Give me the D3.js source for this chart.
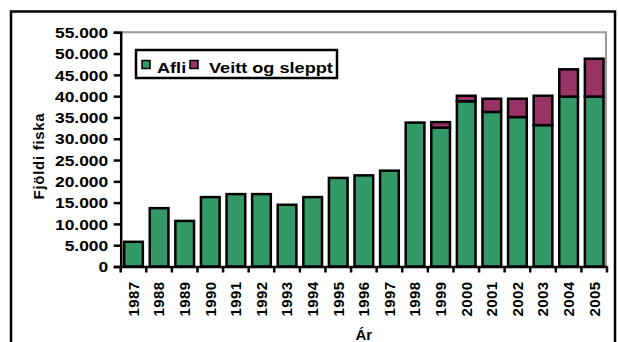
<!DOCTYPE html>
<html><head><meta charset="utf-8">
<script src="https://cdn.jsdelivr.net/npm/d3@7"></script>
<style>
html,body{margin:0;padding:0;background:#fff;}
svg text{font-family:"Liberation Sans",Arial,sans-serif;font-weight:bold;fill:#000;}
</style></head>
<body>
<svg id="c" width="618" height="342"></svg>
<script>
const years = ["1987","1988","1989","1990","1991","1992","1993","1994","1995","1996","1997","1998","1999","2000","2001","2002","2003","2004","2005"];
const afli = [5800,13700,10700,16300,17000,17000,14500,16300,20800,21400,22500,33800,32600,38800,36300,35100,33200,39900,39900];
const veitt = [0,0,0,0,0,0,0,0,0,0,0,0,1300,1300,3100,4300,6900,6400,8900];
const seriesNames = ["Afli","Veitt og sleppt"];
const colors = ["#339966","#993366"];
const yTicks = [0,5000,10000,15000,20000,25000,30000,35000,40000,45000,50000,55000];

const svg = d3.select("#c");
const L = 120.7, R = 607, T = 32.3, B = 266.5;

// outer chart border
svg.append("rect").attr("x",11).attr("y",11.5).attr("width",604).attr("height",345)
  .attr("fill","#fff").attr("stroke","#000").attr("stroke-width",2.5);

const x = d3.scaleBand().domain(years).range([L,R]).paddingInner(0.27).paddingOuter(0.135);
const y = d3.scaleLinear().domain([0,55000]).range([B,T]);

// plot area border (gray top/right)
svg.append("path")
  .attr("d", `M${L},${T}H${R-1}V${B}`)
  .attr("fill","none").attr("stroke","#999").attr("stroke-width",2);

const data = years.map((yr,i)=>({year:yr, Afli:afli[i], "Veitt og sleppt":veitt[i]}));
const stack = d3.stack().keys(seriesNames)(data);

svg.append("g").selectAll("g").data(stack).join("g")
  .attr("fill",(d,i)=>colors[i])
  .selectAll("rect").data(d=>d.filter(p=>p[1]-p[0]>0)).join("rect")
  .attr("x",d=>x(d.data.year))
  .attr("width",x.bandwidth())
  .attr("y",d=>y(d[1]))
  .attr("height",d=>y(d[0])-y(d[1]))
  .attr("stroke","#000").attr("stroke-width",2.5);

const loc = d3.formatLocale({decimal:",",thousands:".",grouping:[3],currency:["",""]});
const fmt = loc.format(",");

// y axis
const yAxis = svg.append("g").attr("transform",`translate(${L},0)`)
  .call(d3.axisLeft(y).tickValues(yTicks).tickFormat(fmt).tickSize(7).tickPadding(5));
yAxis.select(".domain").attr("stroke","#000").attr("stroke-width",2.5);
yAxis.selectAll(".tick line").attr("stroke","#000").attr("stroke-width",2.5);
yAxis.selectAll(".tick text").attr("font-size",14.5)
  .attr("font-family","Liberation Sans, Arial, sans-serif").attr("font-weight","bold")
  .attr("x",0).attr("dy","0.36em")
  .attr("transform","translate(-12.5,0) scale(1.2,1)");

// x axis
const xAxis = svg.append("g").attr("transform",`translate(0,${B})`)
  .call(d3.axisBottom(x).tickSize(0).tickSizeOuter(0));
xAxis.select(".domain").attr("stroke","#000").attr("stroke-width",2.5);
xAxis.selectAll(".tick text")
  .attr("font-size",15).attr("letter-spacing","0.4px")
  .attr("font-family","Liberation Sans, Arial, sans-serif").attr("font-weight","bold")
  .attr("text-anchor","end")
  .attr("transform","rotate(-90)")
  .attr("x",-15).attr("y",0).attr("dy","0.36em");
// boundary ticks
const step = x.step();
const bounds = d3.range(years.length+1).map(i=>L + i*step);
svg.append("g").selectAll("line").data(bounds).join("line")
  .attr("x1",d=>d).attr("x2",d=>d).attr("y1",B).attr("y2",B+6)
  .attr("stroke","#000").attr("stroke-width",2.5);

// axis titles
svg.append("text").attr("transform","translate(44,156) rotate(-90)")
  .attr("text-anchor","middle").attr("font-size",15).attr("letter-spacing","0.7px").text("Fjöldi fiska");
svg.append("text").attr("x",(L+R)/2).attr("y",340).attr("text-anchor","middle")
  .attr("font-size",15).text("Ár");

// legend
const lg = svg.append("g");
lg.append("rect").attr("x",136).attr("y",50).attr("width",201).attr("height",28)
  .attr("fill","#fff").attr("stroke","#000").attr("stroke-width",2.5);
const legX = [142,190], txtX = [157,209];
seriesNames.forEach((n,i)=>{
  lg.append("rect").attr("x",legX[i]).attr("y",60.5).attr("width",8).attr("height",8)
    .attr("fill",colors[i]).attr("stroke","#000").attr("stroke-width",1.5);
  lg.append("text").attr("transform",`translate(${txtX[i]},72.5) scale(1.25,1)`)
    .attr("font-size",14.5).text(n);
});
</script>
</body></html>
